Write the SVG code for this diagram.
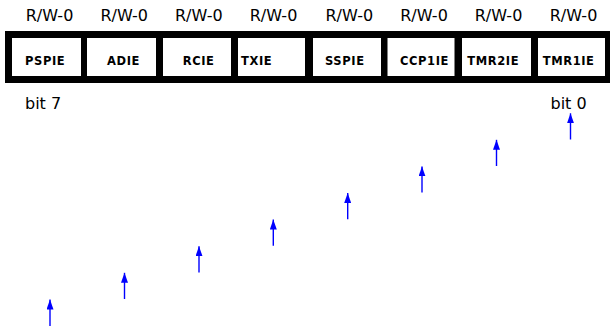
<svg xmlns="http://www.w3.org/2000/svg" width="610" height="326" viewBox="0 0 610 326">
<defs>
<style>
.rw{font-family:"DejaVu Sans",sans-serif;font-size:16px;fill:#000;text-anchor:middle}
.bit{font-family:"DejaVu Sans",sans-serif;font-size:16px;fill:#000}
.box{fill:#fff}
.lbl{font-family:"DejaVu Sans",sans-serif;font-weight:bold;font-size:11.5px;letter-spacing:0.6px;fill:#000}
.arr{stroke:#0000ff;stroke-width:1.4;fill:none}
</style>
<marker id="ah" viewBox="0 0 10 7" refX="10" refY="3.5" markerWidth="10" markerHeight="7" markerUnits="userSpaceOnUse" orient="auto">
<path d="M0,0 L10,3.5 L0,7 Z" fill="#0000ff"/>
</marker>
</defs>
<rect x="0" y="0" width="610" height="326" fill="#fff"/>
<g id="register">
<rect x="5" y="31" width="605" height="52" fill="#000"/>
</g>
<g id="n7"><text class="rw" x="49.5" y="21">R/W-0</text><rect class="box" x="12" y="38" width="69" height="38"/><text class="lbl" x="25" y="64.5">PSPIE</text></g>
<g id="n6"><text class="rw" x="124.2" y="21">R/W-0</text><rect class="box" x="87" y="38" width="69" height="38"/><text class="lbl" x="107" y="64.5">ADIE</text></g>
<g id="n5"><text class="rw" x="198.8" y="21">R/W-0</text><rect class="box" x="163" y="38" width="68" height="38"/><text class="lbl" x="182.7" y="64.5">RCIE</text></g>
<g id="n4"><text class="rw" x="273.5" y="21">R/W-0</text><rect class="box" x="238" y="38" width="67" height="38"/><text class="lbl" x="241" y="64.5">TXIE</text></g>
<g id="n3"><text class="rw" x="349.3" y="21">R/W-0</text><rect class="box" x="313" y="38" width="68" height="38"/><text class="lbl" x="325" y="64.5">SSPIE</text></g>
<g id="n2"><text class="rw" x="424" y="21">R/W-0</text><rect class="box" x="387.5" y="38" width="67" height="38"/><text class="lbl" x="400" y="64.5">CCP1IE</text></g>
<g id="n1"><text class="rw" x="498.5" y="21">R/W-0</text><rect class="box" x="462" y="38" width="69" height="38"/><text class="lbl" x="467.3" y="64.5">TMR2IE</text></g>
<g id="n0"><text class="rw" x="573.5" y="21">R/W-0</text><rect class="box" x="538" y="38" width="67" height="38"/><text class="lbl" x="542.7" y="64.5">TMR1IE</text></g>
<g id="bit7"><text class="bit" x="25" y="109">bit 7</text></g>
<g id="bit0"><text class="bit" x="550.5" y="109">bit 0</text></g>
<g id="connectors">
<line class="arr" x1="50" y1="326" x2="50" y2="299.5" marker-end="url(#ah)"/>
<line class="arr" x1="124.5" y1="299" x2="124.5" y2="272.8" marker-end="url(#ah)"/>
<line class="arr" x1="199" y1="272.4" x2="199" y2="246.2" marker-end="url(#ah)"/>
<line class="arr" x1="273.3" y1="245.8" x2="273.3" y2="219.6" marker-end="url(#ah)"/>
<line class="arr" x1="347.7" y1="219.2" x2="347.7" y2="193" marker-end="url(#ah)"/>
<line class="arr" x1="422" y1="192.6" x2="422" y2="166.4" marker-end="url(#ah)"/>
<line class="arr" x1="496.5" y1="166" x2="496.5" y2="139.8" marker-end="url(#ah)"/>
<line class="arr" x1="570.5" y1="139.5" x2="570.5" y2="113.3" marker-end="url(#ah)"/>
</g>
</svg>
